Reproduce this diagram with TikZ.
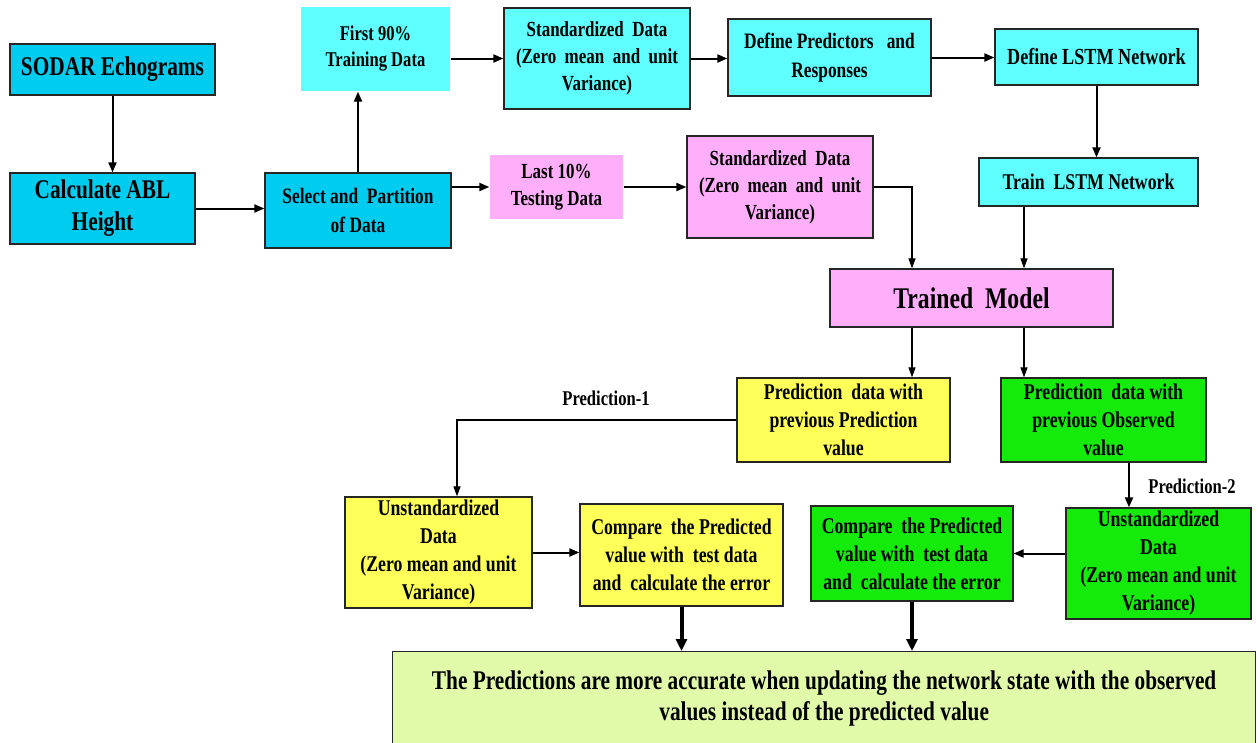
\documentclass[tikz,border=0pt]{standalone}
\usepackage{fontspec}
\setmainfont[FakeStretch=0.79]{Liberation Serif}
\usetikzlibrary{arrows.meta}
\definecolor{ablblue}{RGB}{0,204,240}
\definecolor{lcyan}{RGB}{95,255,255}
\definecolor{pinkb}{RGB}{255,175,250}
\definecolor{yelb}{RGB}{255,255,90}
\definecolor{grnb}{RGB}{20,235,10}
\definecolor{paleb}{RGB}{225,250,170}
\tikzset{
  box/.style={draw=black!85, line width=1.3pt, align=center, inner sep=1pt,
    font=\bfseries\fontsize{22.5}{28}\selectfont},
  plainbox/.style={box, draw=none},
  conn/.style={line width=2pt, -{Triangle[length=10pt,width=8pt]}},
  thin/.style={line width=1.2pt, -{Triangle[length=10pt,width=7pt]}},
  thick/.style={line width=4pt, -{Triangle[length=12pt,width=11pt]}},
  lbl/.style={font=\bfseries\fontsize{21}{24}\selectfont}
}
\begin{document}
\begin{tikzpicture}[x=1pt,y=-1pt]
\useasboundingbox (0,0) rectangle (1258,742);
\fill[white] (0,0) rectangle (1258,742);

% left column and partitioning
\node[box, fill=ablblue, minimum width=205pt, minimum height=51pt,
  font=\bfseries\fontsize{27}{32}\selectfont] (sodar) at (112.5,69.5) {SODAR Echograms};
\node[box, fill=ablblue, minimum width=185pt, minimum height=71pt,
  font=\bfseries\fontsize{27}{32}\selectfont] (calc) at (102.5,208.5) {Calculate ABL\\Height};
\node[box, fill=ablblue, minimum width=186pt, minimum height=75pt,
  font=\bfseries\fontsize{22}{29}\selectfont] (select) at (358,210.5) {Select and\ \ Partition\\of Data};

% training branch
\node[plainbox, fill=lcyan, minimum width=149pt, minimum height=84pt,
  font=\bfseries\fontsize{21}{26}\selectfont] (first) at (375.5,49) {First 90\%\\Training Data};
\node[box, fill=lcyan, minimum width=186pt, minimum height=101pt,
  font=\bfseries\fontsize{21.5}{27}\selectfont] (std) at (597,58.5) {Standardized\ \ Data\\(Zero\ \ mean\ \ and\ \ unit\\Variance)};
\node[box, fill=lcyan, minimum width=203pt, minimum height=77pt,
  font=\bfseries\fontsize{22}{29}\selectfont] (defpred) at (829.5,57.5) {Define Predictors\ \ \ and\\Responses};
\node[box, fill=lcyan, minimum width=203pt, minimum height=56pt,
  font=\bfseries\fontsize{23}{29}\selectfont] (deflstm) at (1096.5,57) {Define LSTM Network};
\node[box, fill=lcyan, minimum width=219pt, minimum height=48pt,
  font=\bfseries\fontsize{22.5}{29}\selectfont] (train) at (1088.5,182) {Train\ \ LSTM Network};

% testing branch
\node[plainbox, fill=pinkb, minimum width=133pt, minimum height=64pt,
  font=\bfseries\fontsize{21.5}{27}\selectfont] (last) at (556.5,187) {Last 10\%\\Testing Data};
\node[box, fill=pinkb, minimum width=186pt, minimum height=102pt,
  font=\bfseries\fontsize{21.5}{27}\selectfont] (stdp) at (780,187) {Standardized\ \ Data\\(Zero\ \ mean\ \ and\ \ unit\\Variance)};
\node[box, fill=pinkb, minimum width=283pt, minimum height=58pt,
  font=\bfseries\fontsize{30}{34}\selectfont] (trained) at (971.5,298) {Trained\ \ Model};

% prediction branches
\node[box, fill=yelb, minimum width=213pt, minimum height=84pt] (predy) at (843.5,420) {Prediction\ \ data with\\previous Prediction\\value};
\node[box, fill=grnb, minimum width=205pt, minimum height=84pt] (predg) at (1103.5,420) {Prediction\ \ data with\\previous Observed\\value};
\node[box, fill=yelb, minimum width=187pt, minimum height=111pt] (unsy) at (438.5,552.5) {Unstandardized\\Data\\(Zero mean and unit\\Variance)};
\node[box, fill=yelb, minimum width=203pt, minimum height=102pt] (cmpy) at (681.5,555) {Compare\ \ the Predicted\\value with\ \ test data\\and\ \ calculate the error};
\node[box, fill=grnb, minimum width=202pt, minimum height=95pt] (cmpg) at (912,553.5) {Compare\ \ the Predicted\\value with\ \ test data\\and\ \ calculate the error};
\node[box, fill=grnb, minimum width=185pt, minimum height=111pt] (unsg) at (1158.5,563.5) {Unstandardized\\Data\\(Zero mean and unit\\Variance)};

% conclusion
\node[box, fill=paleb, minimum width=863pt, minimum height=94pt, anchor=north west,
  font=\bfseries\fontsize{27}{31}\selectfont] (concl) at (392,651)
  {The Predictions are more accurate when updating the network state with the observed\\values instead of the predicted value};

% reference columns for bent connectors
\coordinate (xa) at (912,0);
\coordinate (xb) at (1024,0);
\coordinate (xc) at (457,0);
\coordinate (xd) at (1129,0);

% connectors
\draw[conn] (sodar.south) -- (sodar.south |- calc.north);
\draw[conn] (calc.east) -- (calc.east -| select.west);
\draw[conn] (select.north) -- (select.north |- first.south);
\draw[conn] (first.east |- std.west) -- (std.west);
\draw[conn] (std.east) -- (std.east -| defpred.west);
\draw[conn] (defpred.east) -- (defpred.east -| deflstm.west);
\draw[conn] (deflstm.south) -- (deflstm.south |- train.north);
\draw[conn] (select.east |- last.west) -- (last.west);
\draw[conn] (last.east) -- (last.east -| stdp.west);
\draw[thin] (stdp.east) -| (xa |- trained.north);
\draw[thin] (xb |- train.south) -- (xb |- trained.north);
\draw[thin] (xa |- trained.south) -- (xa |- predy.north);
\draw[thin] (xb |- trained.south) -- (xb |- predg.north);
\draw[thin] (predy.west) -| (xc |- unsy.north);
\draw[conn] (xd |- predg.south) -- (xd |- unsg.north);
\draw[conn] (unsy.east) -- (unsy.east -| cmpy.west);
\draw[conn] (unsg.west |- cmpg.east) -- (cmpg.east);
\draw[thick] (cmpy.south) -- (cmpy.south |- concl.north);
\draw[thick] (cmpg.south) -- (cmpg.south |- concl.north);

% branch labels
\node[lbl] (p1) at (606,398) {Prediction-1};
\node[lbl] (p2) at (1192,486) {Prediction-2};
\end{tikzpicture}
\end{document}
